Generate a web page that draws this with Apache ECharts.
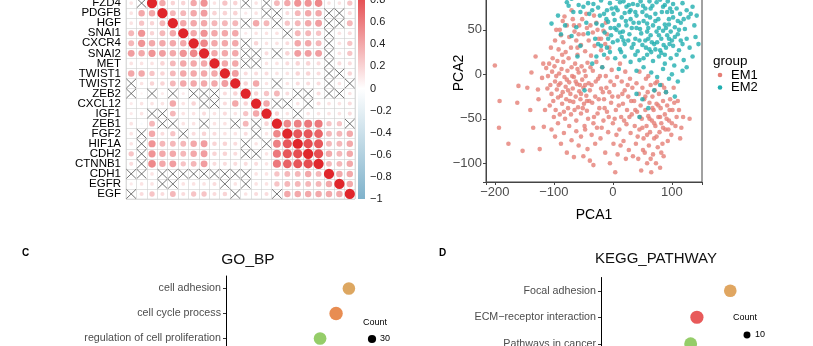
<!DOCTYPE html>
<html>
<head>
<meta charset="utf-8">
<script src="https://cdn.jsdelivr.net/npm/echarts@6/dist/echarts.min.js"></script>
<style>
html,body{margin:0;padding:0;background:#fff}
#chart{width:813px;height:346px}
</style>
</head>
<body>
<div id="chart"></div>
<script>
// ---- correlation panel ----
const genes = ['VIM','FN1','FZD4','PDGFB','HGF','SNAI1','CXCR4','SNAI2','MET','TWIST1','TWIST2',
  'ZEB2','CXCL12','IGF1','ZEB1','FGF2','HIF1A','CDH2','CTNNB1','CDH1','EGFR','EGF'];
// lower triangle (row i, columns 0..i-1); null = not significant (drawn as a cross)
const corrLower = [
  [],
  [0.4],
  [0.13, null],
  [0.13, 0.4, 0.4],
  [0.13, 0.27, 0.2, 0.33],
  [0.33, 0.5, 0.2, 0.33, 0.4],
  [0.33, 0.5, 0.4, 0.4, 0.4, 0.4],
  [0.45, 0.4, 0.5, 0.45, 0.4, 0.5, 0.55],
  [0.13, 0.13, 0.13, 0.2, 0.33, 0.4, 0.4, 0.4],
  [0.4, 0.4, 0.27, 0.2, 0.33, 0.4, 0.4, 0.4, 0.4],
  [null, 0.13, 0.2, 0.2, 0.33, 0.4, 0.4, 0.4, 0.4, 0.45],
  [null, 0.06, null, 0.1, null, 0.1, null, null, null, 0.16, 0.2],
  [0.1, 0.13, 0.13, 0.13, 0.4, 0.13, 0.2, null, null, 0.16, 0.4, 0.2],
  [0.1, 0.13, null, null, 0.33, 0.13, 0.13, 0.16, 0.13, 0.16, 0.13, 0.27, 0.4],
  [0.13, -0.06, 0.33, null, null, 0.13, 0.13, null, 0.13, 0.13, null, 0.33, null, 0.2],
  [0.13, null, 0.4, 0.16, 0.27, null, 0.16, 0.2, 0.16, 0.13, 0.13, 0.16, null, 0.13, 0.55],
  [0.13, null, 0.5, 0.33, 0.33, 0.33, 0.4, 0.45, 0.2, 0.2, 0.16, null, 0.13, null, 0.58, 0.78],
  [0.27, null, 0.5, 0.4, 0.4, 0.33, 0.4, 0.45, 0.2, 0.2, 0.16, null, null, 0.13, 0.62, 0.78, 0.82],
  [0.16, null, 0.55, 0.4, 0.45, 0.27, 0.33, 0.45, 0.16, 0.16, 0.16, 0.16, 0.16, 0.13, 0.62, 0.72, 0.78, 0.82],
  [null, null, 0.13, null, null, null, null, null, null, null, null, null, 0.13, 0.13, 0.27, 0.33, 0.33, 0.4, 0.33],
  [0.1, 0.13, 0.13, null, null, 0.13, 0.13, 0.13, 0.16, null, 0.13, null, 0.13, 0.13, 0.27, 0.33, 0.33, 0.33, 0.33, 0.4],
  [null, 0.16, 0.27, 0.16, 0.33, 0.16, 0.27, 0.27, 0.16, 0.2, null, 0.13, 0.16, 0.16, null, 0.4, 0.4, 0.4, 0.4, 0.4, 0.4]
];
const colorbarRange = [-1, 1];

// ---- PCA panel ----
const em1 = [
  [-200,10],[-192,-30],[-193,-60],[-177,-78],[-160,-13],[-162,-32],[-153,-86],[-138,2],[-140,-40],[-131,20],[-124,-84],[-117,-59],[-127,-17],[-126,-28],[-120,-4],
  [-113,7],[-110,-2],[-108,12],[-106,-12],[-104,-22],[-103,3],[-101,-30],[-99,9],[-98,-8],[-97,-40],[-95,-17],[-94,15],[-93,-26],[-91,1],[-90,-45],[-89,-10],[-87,6],[-86,-33],[-85,-20],[-84,14],[-82,-3],[-81,-50],[-80,-14],[-79,-28],[-77,4],[-76,-38],[-75,18],[-74,-9],[-72,-22],[-71,-45],[-70,8],[-68,-16],[-67,-31],[-66,-3],[-64,12],[-63,-25],[-62,-52],[-61,-11],[-59,-37],[-58,2],[-57,-19],[-55,-28],[-54,-44],[-53,9],[-52,-6],[-50,-15],[-49,-33],[-48,-58],[-46,-2],[-45,-24],[-44,-41],[-43,13],[-41,-10],[-40,-30],
  [-96,50],[-92,28],[-88,44],[-84,36],[-80,25],[-78,55],[-74,42],[-71,30],[-68,62],[-65,48],[-62,38],[-60,22],[-57,55],[-54,33],[-50,45],[-47,26],[-44,52],[-41,38],[-37,21],[-34,47],[-31,32],[-28,58],[-24,40],[-20,27],[-16,49],[-13,34],[-70,72],[-85,60],
  [-104,-62],[-98,-70],[-93,-55],[-88,-78],[-83,-66],[-78,-88],[-74,-58],[-70,-74],[-66,-93],[-62,-64],[-58,-80],[-54,-70],[-50,-92],[-47,-62],[-43,-84],[-39,-97],[-36,-68],[-33,-102],[-30,-78],
  [-36,-12],[-34,4],[-32,-48],[-30,-25],[-28,14],[-27,-60],[-25,-5],[-23,-38],[-21,-72],[-20,-16],[-18,8],[-16,-52],[-15,-28],[-13,-88],[-12,-2],[-10,-42],[-9,18],[-8,-65],[-6,-20],[-5,-100],[-3,-32],[-2,5],[0,-55],[1,-78],[2,-12],[4,-110],[5,-40],[7,-3],[8,-90],[9,-25],[11,-62],[12,12],[14,-48],[15,-8],[17,-33],[18,-75],[20,-18],[21,3],[23,-56],[24,-40],[26,-25],[27,-85],[29,-5],[30,-66],[32,-45],[33,-15],
  [36,-30],[37,-58],[39,-78],[40,-10],[41,-42],[43,-95],[44,-22],[45,-62],[47,-35],[48,-108],[49,-50],[50,-15],[52,-72],[53,-28],[54,-88],[55,-40],[56,-5],[57,-58],[58,-100],[59,-20],[60,-47],[61,-80],[62,-32],[63,-65],[64,-12],[65,-110],[66,-52],[67,-25],[68,-90],[69,-40],[70,-72],[71,-18],[72,-58],[73,-100],[74,-33],[75,-8],[76,-82],[77,-48],[78,-22],[79,-65],[80,-105],[81,-38],[82,-55],[83,-12],[84,-78],[85,-30],[86,-92],[88,-45],[89,-62],[90,-20],[92,-35],[93,-75],[95,-52],[97,-28],[99,-68],[101,-40],[103,-15],[106,-58],[110,-30],[114,-72],[119,-48],[130,-50],[60,-2],[45,3],
  [-111,-16],[-107,-35],[-102,18],[-100,-48],[-96,-2],[-92,-12],[-88,-24],[-86,22],[-83,-42],[-78,-6],[-76,-18],[-73,-30],[-69,-2],[-65,-40],[-63,-8],[-60,6],[-56,-12],[-54,-22],[-51,-38],[-48,4],[-47,-12],[-44,-30],[-42,-50],[-39,-18],[-38,8],[-35,-32],[-33,-55],[-29,-8],[-26,-44],[-24,-28],[-22,-2],[-19,-60],[-17,-20],[-14,-38],[-11,-15],[-7,-48],[-4,-8],[-1,-25],[3,-50],[6,-68],[10,-35],[13,-80],[16,-22],[19,-52],[22,-95],[25,-12],[28,-48],[31,-30],[34,-92],[38,-40],[42,-70],[46,-48],[50,-60],[51,-85],[55,-25],[58,-68],[62,-50],[64,-95],[67,-38],[70,-55],[72,-10],[74,-70],[77,-35],[80,-48],[82,-88],[85,-60],[87,-15],[91,-50],[94,-62],[96,-40],[100,-55],[104,-32],[108,-48],[112,-40],[116,-60],[-118,12],[-115,-40],[-135,-60],[-145,-15],[-105,30],[-98,38],[-90,50],[-82,65],[-66,55],[-58,45],[-52,62],[-38,55],[-32,66],[-26,50],[-20,40],[-10,45],[-6,30],[-12,58],[-45,68],[-60,30]
];
const em2 = [
  [-78,81],[-75,77],[-50,76],[-33,79],[-20,83],[-5,80],[12,81],[23,76],[34,79],[51,77],[62,82],[74,81],[88,78],[102,79],[97,74],[118,80],[135,76],
  [-93,66],[-67,70],[-40,68],[-22,66],[-11,62],[1,68],[8,72],[15,64],[28,70],[40,66],[50,70],[63,64],[72,68],[83,70],[95,62],[102,64],[114,68],[128,64],[142,66],
  [-104,57],[-81,55],[-62,53],[-45,58],[-28,57],[-8,59],[3,61],[10,55],[23,55],[35,58],[46,51],[58,57],[68,55],[78,52],[85,49],[95,56],[105,53],[115,58],[122,51],[138,55],
  [-88,45],[-70,43],[-42,46],[-30,40],[-14,47],[-3,44],[6,50],[15,42],[28,45],[38,40],[48,46],[55,38],[64,44],[74,48],[82,40],[92,44],[100,38],[110,45],[125,40],[140,42],
  [-55,32],[-25,34],[-10,30],[0,36],[12,28],[20,34],[32,30],[42,26],[50,33],[62,28],[70,34],[80,27],[90,30],[102,32],[112,27],[130,30],[145,34],
  [-28,20],[-15,22],[4,18],[20,20],[30,14],[45,16],[58,22],[68,15],[78,20],[88,12],[98,18],[108,22],[120,16],[135,20],
  [-18,8],[10,6],[40,4],[52,8],[65,2],[75,-3],[85,6],[95,-5],[100,0],[110,-8],[118,4],
  [-48,-18],[40,-22],[50,-28],[70,-18],[80,-12],[90,-20],[105,-25],[60,-38],[45,-48],
  [5,75],[18,82],[30,72],[42,78],[55,74],[67,77],[80,84],[92,70],[108,74],[125,72],[-10,72],[-58,78],[-42,80],[3,52],[17,48],[32,52],[44,58],[58,48],[72,60],[88,56],[98,48],[112,50],[8,38],[26,38],[35,34],[60,40],[75,36],[86,33],[95,40],[118,34],[-5,25],[14,25],[38,22],[52,18],[82,24],[104,10],[125,8],[65,25],[-60,20],[-35,12],
  [-70,85],[-55,70],[-35,72],[-25,75],[-15,68],[-2,74],[7,85],[20,69],[27,78],[38,70],[47,82],[57,66],[64,74],[77,62],[85,76],[93,82],[100,70],[110,60],[120,62],[132,68],[-18,55],[-4,52],[12,47],[22,60],[30,62],[40,52],[52,60],[60,52],[66,36],[72,28],[78,44],[90,52],[96,34],[105,42],[115,38],[-8,40],[18,38],[45,38],[56,30],[88,22],[-20,32]
];

// ---- enrichment panels ----
const goTerms = ['cell adhesion','cell cycle process','regulation of cell proliferation'];
const goRatio = [0.292, 0.272, 0.247];
const goCount = [70, 80, 72];
const keggTerms = ['Focal adhesion','ECM\u2212receptor interaction','Pathways in cancer'];
const keggRatio = [0.236, 0.188, 0.179];
const keggCount = [33, 36, 34];

// ---- styling ----
const FONT = 'Liberation Sans, Arial, sans-serif';
const goColors = ['#D4913A', '#E27027', '#7BC143'];
const keggColors = ['#D8903A', '#E23131', '#7BC143'];
const EM1_COLOR = '#E57E75';
const EM2_COLOR = '#1FAEAF';
const NEG = [127, 178, 203], POS = [224, 38, 43];
const goSize = c => 1.5 * Math.sqrt(c);
const keggSize = c => 2.2 * Math.sqrt(c);

function corrColor(v) {
  const t = Math.min(1, Math.abs(v));
  const end = v >= 0 ? POS : NEG;
  const c = end.map(e => Math.round(255 + (e - 255) * t));
  return 'rgb(' + c.join(',') + ')';
}
const minus = s => String(s).replace('-', '\u2212');

// full symmetric matrix
const n = genes.length;
const circleData = [], crossData = [];
for (let i = 0; i < n; i++) {
  for (let j = 0; j < n; j++) {
    const v = i === j ? 1 : (j < i ? corrLower[i][j] : corrLower[j][i]);
    if (v === null) crossData.push([j, i]);
    else circleData.push([j, i, v]);
  }
}

const chart = echarts.init(document.getElementById('chart'), null, {renderer: 'canvas'});
const free = {outerBoundsMode: 'none', containLabel: false};

const option = {
  animation: false,
  textStyle: {fontFamily: FONT},
  grid: [
    Object.assign({left: 126, top: -22, width: 229, height: 221, show: true, borderColor: '#cfcfcf', borderWidth: 0.6}, free),
    Object.assign({left: 358, top: -22, width: 7, height: 221}, free),
    Object.assign({left: 486, top: -36, width: 216, height: 218, show: true, borderColor: '#444', borderWidth: 1}, free),
    Object.assign({left: 226, top: 276, width: 128, height: 75}, free),
    Object.assign({left: 601, top: 277.5, width: 139, height: 79.5}, free)
  ],
  xAxis: [
    {gridIndex: 0, type: 'category', data: genes, axisLabel: {show: false}, axisTick: {show: false}, axisLine: {show: false},
      splitLine: {show: true, interval: 0, lineStyle: {color: '#cfcfcf', width: 0.6}}},
    {gridIndex: 1, type: 'category', data: [''], show: false},
    {gridIndex: 2, type: 'value', min: -215, max: 151,
      axisLine: {show: true, onZero: false, lineStyle: {color: '#444'}}, axisTick: {show: true, length: 3, lineStyle: {color: '#444'}},
      splitLine: {show: false},
      axisLabel: {color: '#4d4d4d', fontSize: 13, margin: 4, formatter: v => v % 100 === 0 ? minus(v) : ''},
      name: 'PCA1', nameLocation: 'middle', nameGap: 26, nameMoveOverlap: false, nameTextStyle: {color: '#000', fontSize: 14}},
    {gridIndex: 3, type: 'value', min: 0.1, max: 0.3, show: false},
    {gridIndex: 4, type: 'value', min: 0.05, max: 0.25, show: false}
  ],
  yAxis: [
    {gridIndex: 0, type: 'category', data: genes, inverse: true, axisLine: {show: false}, axisTick: {show: false},
      axisLabel: {color: '#000', fontSize: 11.5, margin: 5, interval: 0},
      splitLine: {show: true, interval: 0, lineStyle: {color: '#cfcfcf', width: 0.6}}},
    {gridIndex: 1, type: 'value', min: colorbarRange[0], max: colorbarRange[1], interval: 0.2, position: 'right',
      axisLine: {show: false}, axisTick: {show: true, inside: true, length: 2, lineStyle: {color: '#fff'}},
      splitLine: {show: false},
      axisLabel: {color: '#222', fontSize: 11, margin: 5, formatter: v => minus(Math.round(v * 10) / 10)}},
    {gridIndex: 2, type: 'value', min: -121, max: 124,
      axisLine: {show: true, onZero: false, lineStyle: {color: '#444'}}, axisTick: {show: true, length: 3, lineStyle: {color: '#444'}},
      splitLine: {show: false},
      axisLabel: {color: '#4d4d4d', fontSize: 13, margin: 4, formatter: v => v % 50 === 0 ? minus(v) : ''},
      name: 'PCA2', nameLocation: 'middle', nameGap: 20, nameMoveOverlap: false, nameTextStyle: {color: '#000', fontSize: 14}},
    {gridIndex: 3, type: 'category', data: goTerms, inverse: true,
      axisLine: {show: true, lineStyle: {color: '#000', width: 1}}, axisTick: {show: true, alignWithLabel: true, length: 3, lineStyle: {color: '#333'}},
      axisLabel: {color: '#4d4d4d', fontSize: 10.7, margin: 5, interval: 0}},
    {gridIndex: 4, type: 'category', data: keggTerms, inverse: true,
      axisLine: {show: true, lineStyle: {color: '#000', width: 1}}, axisTick: {show: true, alignWithLabel: true, length: 3, lineStyle: {color: '#333'}},
      axisLabel: {color: '#4d4d4d', fontSize: 10.7, margin: 5, interval: 0}}
  ],
  series: [
    {
      type: 'custom', xAxisIndex: 0, yAxisIndex: 0, data: circleData,
      renderItem: (params, api) => {
        const c = api.coord([api.value(0), api.value(1)]);
        const s = api.size([1, 1]);
        const v = api.value(2);
        const r = Math.min(s[0], s[1]) / 2 * Math.sqrt(Math.abs(v)) * 1.02;
        return {type: 'circle', shape: {cx: c[0], cy: c[1], r: r}, style: {fill: corrColor(v)}};
      }
    },
    {
      type: 'custom', xAxisIndex: 0, yAxisIndex: 0, data: crossData,
      renderItem: (params, api) => {
        const c = api.coord([api.value(0), api.value(1)]);
        const s = api.size([1, 1]);
        const w = s[0] / 2 * 0.92, h = s[1] / 2 * 0.92;
        const st = {stroke: '#3a3a3a', lineWidth: 0.7};
        return {type: 'group', children: [
          {type: 'line', shape: {x1: c[0] - w, y1: c[1] - h, x2: c[0] + w, y2: c[1] + h}, style: st},
          {type: 'line', shape: {x1: c[0] - w, y1: c[1] + h, x2: c[0] + w, y2: c[1] - h}, style: st}
        ]};
      }
    },
    {
      type: 'custom', xAxisIndex: 1, yAxisIndex: 1, data: [[0, colorbarRange[0], colorbarRange[1]]],
      renderItem: (params, api) => {
        const lo = api.coord([0, api.value(1)]);
        const hi = api.coord([0, api.value(2)]);
        const w = api.size([1, 0])[0];
        return {type: 'rect', shape: {x: lo[0] - w / 2, y: hi[1], width: w, height: lo[1] - hi[1]},
          style: {fill: new echarts.graphic.LinearGradient(0, 0, 0, 1, [
            {offset: 0, color: corrColor(1)}, {offset: 0.5, color: '#ffffff'}, {offset: 1, color: corrColor(-1)}
          ])}};
      }
    },
    {name: 'EM1', type: 'scatter', xAxisIndex: 2, yAxisIndex: 2, data: em1, symbolSize: 4.6,
      itemStyle: {color: EM1_COLOR}},
    {name: 'EM2', type: 'scatter', xAxisIndex: 2, yAxisIndex: 2, data: em2, symbolSize: 4.6,
      itemStyle: {color: EM2_COLOR}},
    {type: 'scatter', xAxisIndex: 3, yAxisIndex: 3,
      data: goTerms.map((t, k) => ({value: [goRatio[k], t], symbolSize: goSize(goCount[k]), itemStyle: {color: goColors[k]}}))},
    {type: 'scatter', xAxisIndex: 4, yAxisIndex: 4,
      data: keggTerms.map((t, k) => ({value: [keggRatio[k], t], symbolSize: keggSize(keggCount[k]), itemStyle: {color: keggColors[k]}}))}
  ],
  graphic: [
    {type: 'text', x: 713, y: 61, style: {text: 'group', font: '13.5px ' + FONT, fill: '#000', verticalAlign: 'middle'}},
    {type: 'circle', shape: {cx: 720, cy: 75, r: 2.3}, style: {fill: EM1_COLOR}},
    {type: 'text', x: 731, y: 75, style: {text: 'EM1', font: '13px ' + FONT, fill: '#000', verticalAlign: 'middle'}},
    {type: 'circle', shape: {cx: 720, cy: 87.5, r: 2.3}, style: {fill: EM2_COLOR}},
    {type: 'text', x: 731, y: 87.5, style: {text: 'EM2', font: '13px ' + FONT, fill: '#000', verticalAlign: 'middle'}},

    {type: 'text', x: 22, y: 253, style: {text: 'C', font: 'bold 10px ' + FONT, fill: '#000', verticalAlign: 'middle'}},
    {type: 'text', x: 439, y: 253, style: {text: 'D', font: 'bold 10px ' + FONT, fill: '#000', verticalAlign: 'middle'}},
    {type: 'text', x: 248, y: 260, style: {text: 'GO_BP', font: '15.5px ' + FONT, fill: '#111', align: 'center', verticalAlign: 'middle'}},
    {type: 'text', x: 656, y: 259, style: {text: 'KEGG_PATHWAY', font: '15px ' + FONT, fill: '#111', align: 'center', verticalAlign: 'middle'}},

    {type: 'text', x: 363, y: 323, style: {text: 'Count', font: '9px ' + FONT, fill: '#000', verticalAlign: 'middle'}},
    {type: 'circle', shape: {cx: 372, cy: 339, r: goSize(30) / 2}, style: {fill: '#000'}},
    {type: 'text', x: 380, y: 339, style: {text: '30', font: '9px ' + FONT, fill: '#000', verticalAlign: 'middle'}},
    {type: 'text', x: 733, y: 318, style: {text: 'Count', font: '9px ' + FONT, fill: '#000', verticalAlign: 'middle'}},
    {type: 'circle', shape: {cx: 747, cy: 335, r: keggSize(10) / 2}, style: {fill: '#000'}},
    {type: 'text', x: 755, y: 335, style: {text: '10', font: '9px ' + FONT, fill: '#000', verticalAlign: 'middle'}}
  ]
};
chart.setOption(option);
</script>
</body>
</html>
